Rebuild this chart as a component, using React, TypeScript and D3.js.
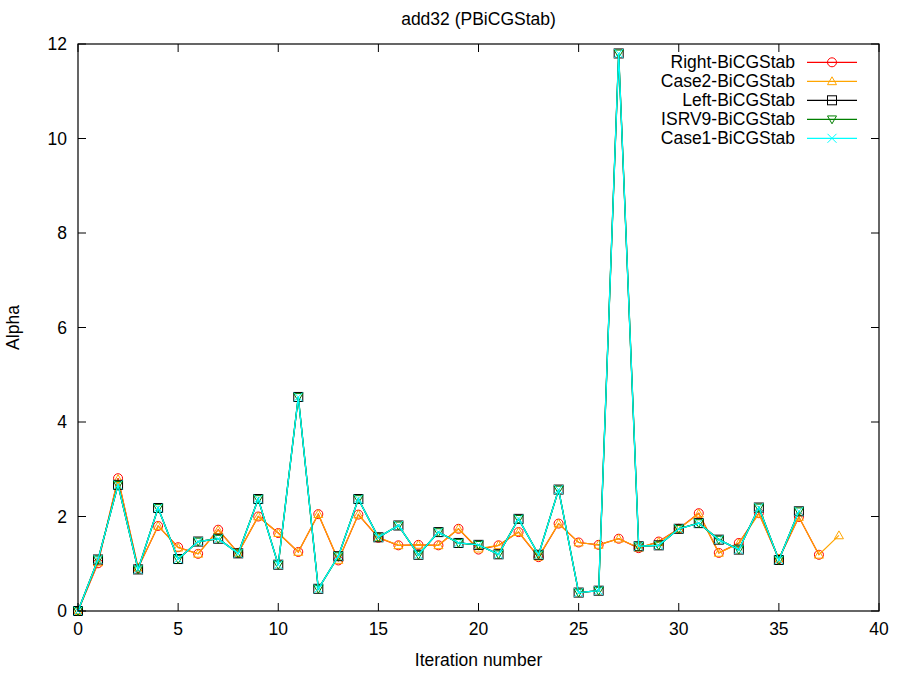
import React from "react";
import * as d3 from "d3";

const rightVals = [0, 1.01, 2.81, 0.91, 1.80, 1.35, 1.21, 1.72, 1.23, 2.00, 1.65, 1.25, 2.05, 1.07, 2.04, 1.55, 1.39, 1.40, 1.39, 1.74, 1.30, 1.39, 1.67, 1.14, 1.85, 1.45, 1.40, 1.53, 1.33, 1.47, 1.74, 2.07, 1.23, 1.44, 2.07, 1.10, 1.99, 1.19];
const case2Vals = [0, 1.03, 2.79, 0.92, 1.80, 1.34, 1.21, 1.71, 1.23, 2.00, 1.65, 1.25, 2.05, 1.08, 2.04, 1.56, 1.39, 1.40, 1.39, 1.74, 1.32, 1.39, 1.67, 1.15, 1.85, 1.45, 1.40, 1.53, 1.34, 1.46, 1.74, 2.06, 1.23, 1.43, 2.06, 1.11, 1.99, 1.19, 1.60];
const leftVals = [0, 1.09, 2.67, 0.88, 2.18, 1.10, 1.47, 1.53, 1.22, 2.37, 0.98, 4.53, 0.47, 1.16, 2.37, 1.56, 1.81, 1.19, 1.67, 1.44, 1.40, 1.20, 1.95, 1.19, 2.57, 0.39, 0.43, 11.80, 1.37, 1.39, 1.74, 1.86, 1.51, 1.30, 2.19, 1.08, 2.11];
const isrv9Vals = [...leftVals];
const case1Vals = [...leftVals];

const xTicks = [0, 5, 10, 15, 20, 25, 30, 35, 40];
const yTicks = [0, 2, 4, 6, 8, 10, 12];

type Marker = "circle" | "tri" | "square" | "tridown" | "cross";
const seriesList: { name: string; values: number[]; color: string; marker: Marker; lw: number }[] = [
  { name: "Right-BiCGStab", values: rightVals, color: "#ff0000", marker: "circle", lw: 1.2 },
  { name: "Case2-BiCGStab", values: case2Vals, color: "#ffa500", marker: "tri", lw: 1.2 },
  { name: "Left-BiCGStab", values: leftVals, color: "#000000", marker: "square", lw: 1.2 },
  { name: "ISRV9-BiCGStab", values: isrv9Vals, color: "#008000", marker: "tridown", lw: 1.4 },
  { name: "Case1-BiCGStab", values: case1Vals, color: "#00ffff", marker: "cross", lw: 1.3 },
];

const W = 897, H = 675;
const L = 78, R = 879, T = 44, B = 611;
const FONT = "'Liberation Sans', Arial, sans-serif";
const FS = 17.5;

function MarkerShape({ type, x, y, color }: { type: Marker; x: number; y: number; color: string }) {
  const s = 4.5;
  const common = { fill: "none", stroke: color, strokeWidth: 1 };
  switch (type) {
    case "circle":
      return <circle cx={x} cy={y} r={s} {...common} />;
    case "tri":
      return <path d={`M${x},${y - s}L${x + s},${y + s * 0.75}L${x - s},${y + s * 0.75}Z`} {...common} />;
    case "square":
      return <rect x={x - s} y={y - s} width={2 * s} height={2 * s} {...common} />;
    case "tridown":
      return <path d={`M${x},${y + s}L${x + s},${y - s * 0.75}L${x - s},${y - s * 0.75}Z`} {...common} />;
    case "cross":
      return <path d={`M${x - s},${y - s}L${x + s},${y + s}M${x - s},${y + s}L${x + s},${y - s}`} {...common} />;
  }
}

export default function App() {
  const x = d3.scaleLinear().domain([0, 40]).range([L, R]);
  const y = d3.scaleLinear().domain([0, 12]).range([B, T]);
  const line = d3.line<number>().x((_, i) => x(i)).y((d) => y(d));
  const tl = 8;

  return (
    <div style={{ position: "absolute", left: 0, top: 0 }}>
      <svg width={W} height={H} style={{ display: "block", background: "#fff" }} fontFamily={FONT}>
        <rect x={0} y={0} width={W} height={H} fill="#fff" />
        {xTicks.map((t) => (
          <g key={"xt" + t}>
            <line x1={x(t)} x2={x(t)} y1={B} y2={B - tl} stroke="#000" strokeWidth={1} />
            <line x1={x(t)} x2={x(t)} y1={T} y2={T + tl} stroke="#000" strokeWidth={1} />
            <text x={x(t)} y={B + 24} fontSize={FS} textAnchor="middle" fill="#000">{t}</text>
          </g>
        ))}
        {yTicks.map((t) => (
          <g key={"yt" + t}>
            <line x1={L} x2={L + tl} y1={y(t)} y2={y(t)} stroke="#000" strokeWidth={1} />
            <line x1={R} x2={R - tl} y1={y(t)} y2={y(t)} stroke="#000" strokeWidth={1} />
            <text x={67} y={y(t) + 6} fontSize={FS} textAnchor="end" fill="#000">{t}</text>
          </g>
        ))}
        {seriesList.map((s) => (
          <g key={s.name}>
            <path d={line(s.values) || ""} fill="none" stroke={s.color} strokeWidth={s.lw} />
            {s.values.map((v, i) => (
              <MarkerShape key={i} type={s.marker} x={x(i)} y={y(v)} color={s.color} />
            ))}
          </g>
        ))}
        <rect x={L} y={T} width={R - L} height={B - T} fill="none" stroke="#000" strokeWidth={1.2} />
        {seriesList.map((s, i) => {
          const cy = 62.3 + i * 19;
          return (
            <g key={"lg" + s.name}>
              <text x={795} y={cy + 6} fontSize={FS} textAnchor="end" fill="#000">{s.name}</text>
              <line x1={807} x2={857} y1={cy} y2={cy} stroke={s.color} strokeWidth={1.2} />
              <MarkerShape type={s.marker} x={832} y={cy} color={s.color} />
            </g>
          );
        })}
        <text x={(L + R) / 2} y={25} fontSize={FS} textAnchor="middle" fill="#000">add32 (PBiCGStab)</text>
        <text x={(L + R) / 2} y={666} fontSize={FS} textAnchor="middle" fill="#000">Iteration number</text>
        <text transform={`translate(19,${(T + B) / 2}) rotate(-90)`} fontSize={FS} textAnchor="middle" fill="#000">Alpha</text>
      </svg>
    </div>
  );
}
